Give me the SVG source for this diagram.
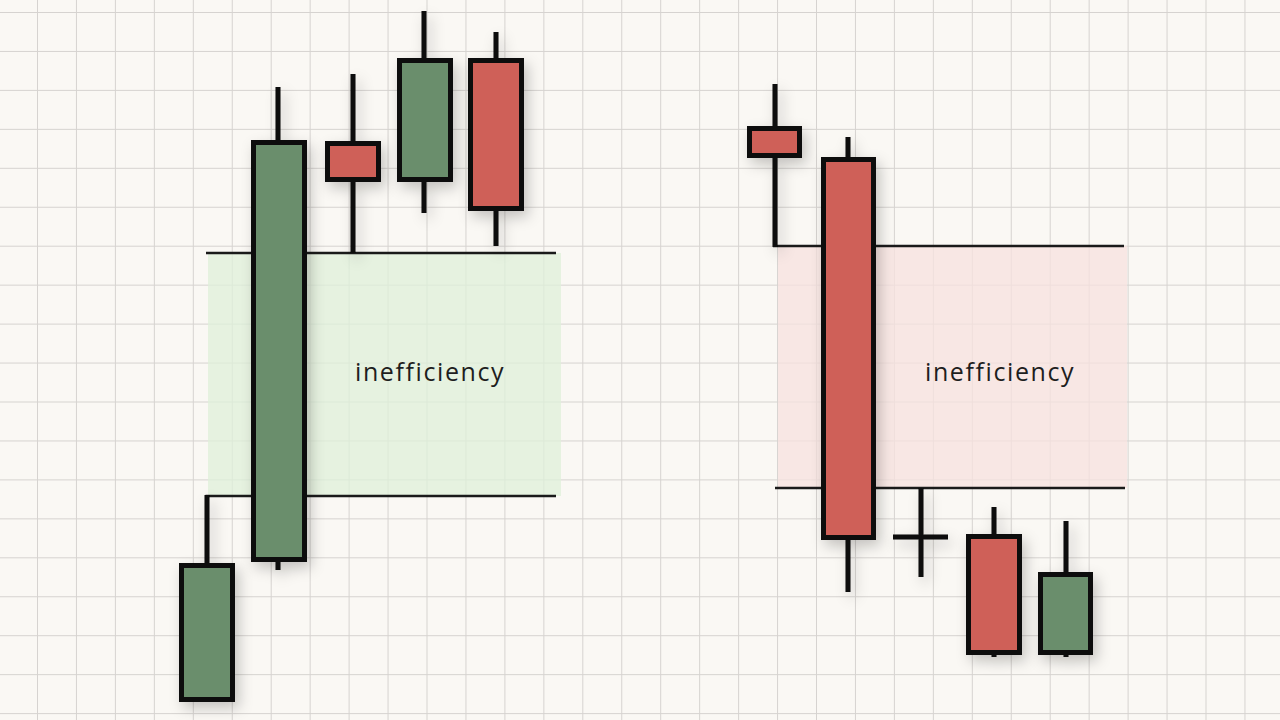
<svg xmlns="http://www.w3.org/2000/svg" width="1280" height="720" viewBox="0 0 1280 720">
  <defs>
    <pattern id="grid" x="37" y="12" width="38.95" height="38.95" patternUnits="userSpaceOnUse">
      <path d="M0 0 H38.95 M0 0 V38.95" fill="none" stroke="#d6d3d0" stroke-width="2"/>
    </pattern>
    <filter id="sh" x="-50%" y="-20%" width="200%" height="140%">
      <feDropShadow dx="4" dy="6" stdDeviation="7" flood-color="#000" flood-opacity="0.22"/>
    </filter>
    <style>
      .body{stroke:#0a0a0a;stroke-width:5}
      .g{fill:#6a8e6c}
      .r{fill:#cf6159}
      .wick{stroke:#0a0a0a;stroke-width:5;fill:none;stroke-linecap:butt}
      .zl{stroke:#1a1a1a;stroke-width:2.4;fill:none}
      .lbl{font-family:"Open Sans","Liberation Sans",sans-serif;font-size:25px;fill:#1e1e1e;letter-spacing:1.6px}
    </style>
  </defs>
  <rect width="1280" height="720" fill="#faf8f4"/>
  <rect width="1280" height="720" fill="url(#grid)"/>

  <g id="zones">
    <rect id="zone-left" x="208" y="253" width="353" height="243" fill="#dff0da" opacity="0.75"/>
    <rect id="zone-right" x="778" y="246" width="349" height="242" fill="#f7e1df" opacity="0.75"/>
  </g>

  <g id="connectors">
    <path class="zl" d="M206 253 H556"/>
    <path class="zl" d="M205.5 496 H556"/>
    <path class="zl" d="M773 246 H1124"/>
    <path class="zl" d="M775 488 H1125"/>
  </g>

  <g id="candle-a" filter="url(#sh)">
    <path class="wick" d="M207 564 V495" stroke-width="4.5"/>
    <rect class="body g" x="181.5" y="565.5" width="51" height="134"/>
  </g>
  <g id="candle-b" filter="url(#sh)">
    <path class="wick" d="M278 87 V143 M278 558 V570"/>
    <rect class="body g" x="253.5" y="142.5" width="51" height="417"/>
  </g>
  <g id="candle-c" filter="url(#sh)">
    <path class="wick" d="M353 74 V253"/>
    <rect class="body r" x="327.5" y="143.5" width="51" height="36"/>
  </g>
  <g id="candle-d" filter="url(#sh)">
    <path class="wick" d="M424 11 V213"/>
    <rect class="body g" x="399.5" y="60.5" width="51" height="119"/>
  </g>
  <g id="candle-e" filter="url(#sh)">
    <path class="wick" d="M496 32 V246"/>
    <rect class="body r" x="470.5" y="60.5" width="51" height="148"/>
  </g>

  <g id="candle-f" filter="url(#sh)">
    <path class="wick" d="M775 84 V247" stroke-width="4.5"/>
    <rect class="body r" x="749.5" y="128.5" width="50" height="27"/>
  </g>
  <g id="candle-g" filter="url(#sh)">
    <path class="wick" d="M848 137 V592"/>
    <rect class="body r" x="823.5" y="159.5" width="50" height="378"/>
  </g>
  <g id="candle-h" filter="url(#sh)">
    <path class="wick" d="M921 488 V577"/>
    <path class="wick" d="M893 537 H948" stroke-width="6"/>
  </g>
  <g id="candle-i" filter="url(#sh)">
    <path class="wick" d="M994 507 V535 M994 652 V657"/>
    <rect class="body r" x="968.5" y="536.5" width="51" height="116"/>
  </g>
  <g id="candle-j" filter="url(#sh)">
    <path class="wick" d="M1066 521 V573 M1066 652 V657"/>
    <rect class="body g" x="1040.5" y="574.5" width="50" height="78"/>
  </g>

  <g id="label-left">
    <text class="lbl" x="355" y="381">inefficiency</text>
  </g>
  <g id="label-right">
    <text class="lbl" x="925" y="381">inefficiency</text>
  </g>
</svg>
